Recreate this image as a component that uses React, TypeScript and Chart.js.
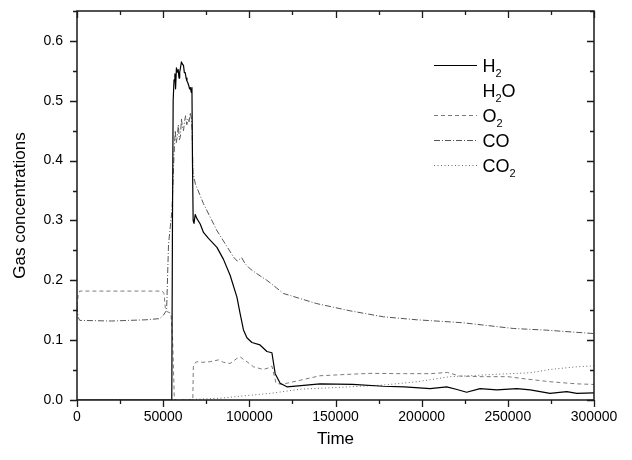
import React, { useEffect, useRef } from "react";
import { Chart, registerables } from "chart.js";

Chart.register(...registerables);

// Axis ticks
const xTickValues = [0, 50000, 100000, 150000, 200000, 250000, 300000];
const yTickValues = [0, 0.1, 0.2, 0.3, 0.4, 0.5, 0.6];
const xMinorStep = 25000;
const yMinorStep = 0.05;
const xMax = 300000;
const yMax = 0.65;

// Legend labels (digits are drawn as subscripts)
const seriesLabels = ["H2", "H2O", "O2", "CO", "CO2"];

// H2
const h2Time = [
  0, 55000, 55400, 55800, 56300, 56800, 57200, 57700, 58200, 58700, 59200, 59600,
  60100, 60600, 61200, 61800, 62300, 62800, 63300, 63800, 64300, 64800, 65300,
  65800, 66300, 66700, 67000, 67400, 67900, 68600, 69600, 71500, 73400, 76300,
  81200, 85000, 88900, 92800, 94600, 96600, 98600, 101500, 106200, 110200, 113100,
  115000, 117900, 121800, 130000, 141000, 160000, 177700, 190000, 204900, 214500,
  220000, 226100, 233900, 243600, 255200, 263000, 274500, 284200, 290000, 300000,
];
const h2Values = [
  0, 0, 0.3, 0.5, 0.535, 0.545, 0.52, 0.555, 0.548, 0.552, 0.538, 0.548,
  0.556, 0.565, 0.561, 0.559, 0.547, 0.547, 0.538, 0.533, 0.53, 0.526, 0.52,
  0.522, 0.514, 0.522, 0.4, 0.3, 0.295, 0.31, 0.303, 0.294, 0.28, 0.27,
  0.255, 0.235, 0.208, 0.172, 0.145, 0.117, 0.104, 0.096, 0.092, 0.081, 0.079,
  0.044, 0.028, 0.022, 0.024, 0.027, 0.026, 0.023, 0.022, 0.019, 0.022,
  0.018, 0.013, 0.019, 0.017, 0.019, 0.017, 0.011, 0.014, 0.011, 0.012,
];

// H2O (listed in the legend, no trace)
const h2oTime: number[] = [];
const h2oValues: number[] = [];

// O2
const o2Time = [
  0, 700, 1600, 20000, 40000, 49500, 50500, 51200, 52000, 54500, 55500, 56500,
  67200, 67500, 68500, 69600, 73000, 77300, 82100, 85000, 88900, 92800, 94700,
  96500, 98600, 102400, 108200, 111500, 113100, 115500, 119000, 121800, 129500,
  141000, 158500, 170000, 190000, 205000, 215000, 222000, 235000, 250000, 258000,
  274500, 290000, 300000,
];
const o2Values = [
  0.157, 0.176, 0.182, 0.182, 0.182, 0.182, 0.178, 0.155, 0.148, 0.145, 0.1, 0,
  0, 0.055, 0.062, 0.064, 0.063, 0.064, 0.067, 0.063, 0.061, 0.0695, 0.072,
  0.068, 0.064, 0.0555, 0.051, 0.054, 0.0567, 0.028, 0.026, 0.028, 0.033,
  0.0405, 0.043, 0.0445, 0.044, 0.044, 0.046, 0.04, 0.039, 0.039, 0.036,
  0.0305, 0.027, 0.026,
];

// CO
const coTime = [
  0, 700, 1600, 20000, 40000, 48000, 50200, 52000, 53100, 55100, 55700, 56300,
  57000, 57600, 58200, 58800, 59400, 60000, 60600, 61200, 61800, 62400, 63000,
  63700, 64400, 65000, 65700, 66400, 66800, 67300, 68000, 68700, 73400, 81200,
  90800, 93000, 95500, 97500, 100500, 104400, 110200, 119800, 139200, 158500,
  177800, 197200, 216500, 224200, 253200, 272500, 300000,
];
const coValues = [
  0.157, 0.138, 0.133, 0.132, 0.134, 0.136, 0.142, 0.15, 0.26, 0.317, 0.361, 0.41,
  0.45, 0.43, 0.44, 0.46, 0.435, 0.44, 0.47, 0.455, 0.45, 0.465, 0.475,
  0.46, 0.47, 0.465, 0.48, 0.47, 0.45, 0.38, 0.37, 0.361, 0.328, 0.283,
  0.239, 0.232, 0.238, 0.228, 0.219, 0.211, 0.2, 0.178, 0.161, 0.149,
  0.139, 0.134, 0.1305, 0.129, 0.1195, 0.1167, 0.111,
];

// CO2
const co2Time = [
  0, 54000, 67600, 83100, 100500, 112000, 129600, 158500, 177700, 197200, 216500,
  224200, 243600, 263000, 274500, 290000, 300000,
];
const co2Values = [
  0, 0, 0.001, 0.003, 0.008, 0.011, 0.018, 0.022, 0.025, 0.0305, 0.039,
  0.04, 0.043, 0.0455, 0.051, 0.0555, 0.057,
];

const FONT = "Arial, 'Liberation Sans', Helvetica, sans-serif";

type Style = { color: string; width: number; dash: number[]; visible: boolean };

const seriesStyles: Style[] = [
  { color: "#000000", width: 1.2, dash: [], visible: true },
  { color: "rgba(0,0,0,0)", width: 0, dash: [], visible: false },
  { color: "#7a7a7a", width: 1, dash: [4, 3], visible: true },
  { color: "#555555", width: 1, dash: [6, 2, 1, 2], visible: true },
  { color: "#6a6a6a", width: 1, dash: [1, 2.5], visible: true },
];

const seriesTimes = [h2Time, h2oTime, o2Time, coTime, co2Time];
const seriesValues = [h2Values, h2oValues, o2Values, coValues, co2Values];

function toPoints(t: number[], v: number[]) {
  return t.map((x, i) => ({ x, y: v[i] }));
}

// Draws the closed frame with outward ticks on the left/bottom and inward on top/right
const framePlugin = {
  id: "frameTicks",
  afterDatasetsDraw(chart: any) {
    const { ctx, chartArea: a, scales } = chart;
    const xs = scales.x;
    const ys = scales.y;
    ctx.save();
    ctx.strokeStyle = "#1a1a1a";
    ctx.lineWidth = 1.5;
    ctx.setLineDash([]);
    ctx.strokeRect(a.left, a.top, a.right - a.left, a.bottom - a.top);
    ctx.lineWidth = 1.3;
    ctx.beginPath();
    for (let v = 0; v <= xMax + 1; v += xMinorStep) {
      const px = Math.round(xs.getPixelForValue(v)) + 0.5;
      const major = Math.abs(v % 50000) < 1;
      const len = major ? 7 : 4;
      ctx.moveTo(px, a.bottom);
      ctx.lineTo(px, a.bottom + len);
      ctx.moveTo(px, a.top);
      ctx.lineTo(px, a.top + len);
    }
    for (let i = 0; i * yMinorStep <= yMax + 1e-9; i++) {
      const v = i * yMinorStep;
      const py = Math.round(ys.getPixelForValue(v)) + 0.5;
      const major = i % 2 === 0;
      const len = major ? 7 : 4;
      ctx.moveTo(a.left, py);
      ctx.lineTo(a.left - len, py);
      ctx.moveTo(a.right, py);
      ctx.lineTo(a.right - len, py);
    }
    ctx.stroke();
    ctx.restore();
  },
};

// Legend with chemical subscripts
const legendPlugin = {
  id: "formulaLegend",
  afterDraw(chart: any) {
    const { ctx, chartArea: a } = chart;
    const lineX0 = a.right - 160;
    const lineX1 = a.right - 117;
    const textX = a.right - 111.5;
    const rowY0 = a.top + 54;
    const rowGap = 25;
    ctx.save();
    seriesLabels.forEach((label, i) => {
      const y = rowY0 + i * rowGap;
      const st = seriesStyles[i];
      if (st.visible) {
        ctx.strokeStyle = st.color;
        ctx.lineWidth = st.width;
        ctx.setLineDash(st.dash);
        ctx.beginPath();
        ctx.moveTo(lineX0, Math.round(y) + 0.5);
        ctx.lineTo(lineX1, Math.round(y) + 0.5);
        ctx.stroke();
      }
      ctx.setLineDash([]);
      ctx.fillStyle = "#000";
      ctx.textBaseline = "alphabetic";
      let x = textX;
      const base = y + 6.7;
      for (const ch of label) {
        const sub = /[0-9]/.test(ch);
        ctx.font = sub ? `11px ${FONT}` : `18px ${FONT}`;
        ctx.fillText(ch, x, sub ? base + 5 : base);
        x += ctx.measureText(ch).width;
      }
    });
    ctx.restore();
  },
};

export default function App() {
  const canvasRef = useRef<HTMLCanvasElement | null>(null);

  useEffect(() => {
    const canvas = canvasRef.current;
    if (!canvas) return;
    const datasets = seriesLabels.map((label, i) => ({
      label,
      data: toPoints(seriesTimes[i], seriesValues[i]),
      borderColor: seriesStyles[i].color,
      borderWidth: seriesStyles[i].width,
      borderDash: seriesStyles[i].dash,
      pointRadius: 0,
      fill: false,
      tension: 0,
      borderJoinStyle: "round" as const,
    }));

    const chart = new Chart(canvas, {
      type: "line",
      data: { datasets },
      options: {
        animation: false,
        responsive: false,
        parsing: false,
        layout: { padding: { left: 0, right: 38, top: 11, bottom: 0 } },
        plugins: {
          legend: { display: false },
          tooltip: { enabled: false },
        },
        scales: {
          x: {
            type: "linear",
            min: 0,
            max: xMax,
            grid: { display: false, drawTicks: false },
            border: { display: false },
            afterBuildTicks: (s: any) => {
              s.ticks = xTickValues.map((value) => ({ value }));
            },
            afterFit: (s: any) => {
              s.height = 60;
              s.paddingLeft = 0;
              s.paddingRight = 0;
            },
            ticks: {
              padding: 9,
              maxRotation: 0,
              color: "#000",
              font: { family: FONT, size: 14 },
              callback: (v: any) => String(v),
            },
            title: {
              display: true,
              text: "Time",
              color: "#000",
              font: { family: FONT, size: 17 },
              padding: { top: 0, bottom: 10 },
            },
          },
          y: {
            type: "linear",
            min: 0,
            max: yMax,
            grid: { display: false, drawTicks: false },
            border: { display: false },
            afterBuildTicks: (s: any) => {
              s.ticks = yTickValues.map((value) => ({ value }));
            },
            afterFit: (s: any) => {
              s.width = 77;
              s.paddingTop = 0;
              s.paddingBottom = 0;
            },
            ticks: {
              padding: 14,
              color: "#000",
              font: { family: FONT, size: 14 },
              callback: (v: any) => Number(v).toFixed(1),
            },
            title: {
              display: true,
              text: "Gas concentrations",
              color: "#000",
              font: { family: FONT, size: 17 },
              padding: { top: 10, bottom: 0 },
            },
          },
        },
      },
      plugins: [framePlugin, legendPlugin],
    });
    return () => chart.destroy();
  }, []);

  return (
    <div style={{ position: "fixed", left: 0, top: 0, width: 632, height: 460, background: "#fff" }}>
      <canvas ref={canvasRef} width={632} height={460} />
    </div>
  );
}
